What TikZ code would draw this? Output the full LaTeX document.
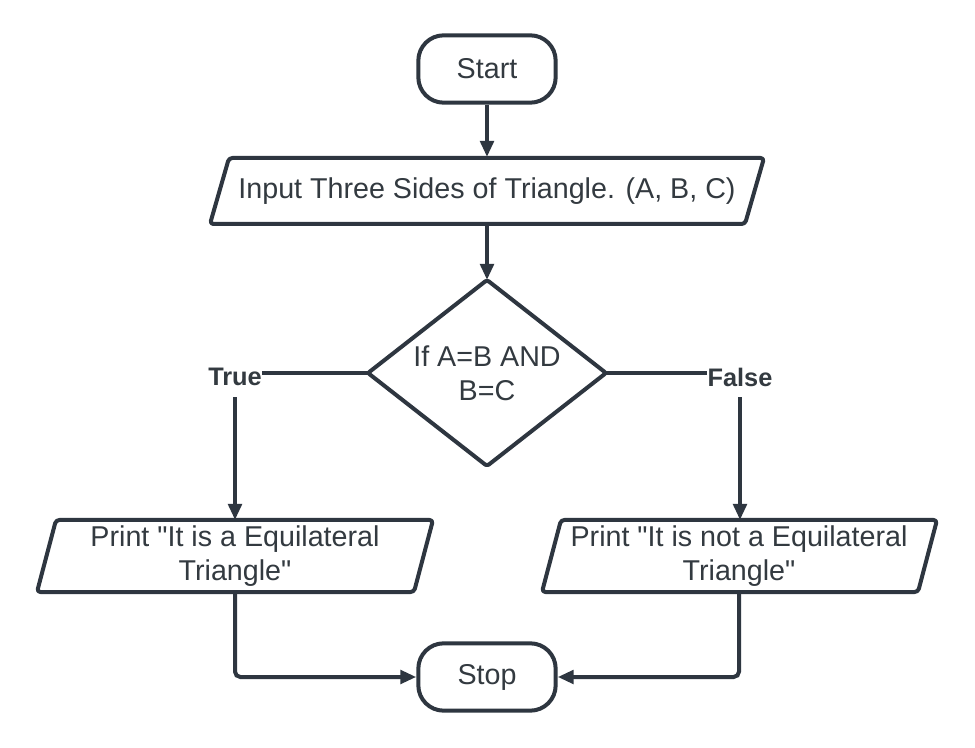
\documentclass[tikz,border=0pt]{standalone}
\usepackage{fontspec}
\setmainfont{Liberation Sans}[Ligatures=TeXOff]
\usetikzlibrary{shapes.geometric,arrows.meta}
\definecolor{linec}{HTML}{2E3640}
\definecolor{textc}{HTML}{333A40}
\begin{document}
\begin{tikzpicture}[x=0.75pt,y=-0.75pt,
  every node/.style={text=textc, font=\fontsize{21.5}{25.5}\selectfont, align=center},
  term/.style={draw=linec, line width=3pt, rectangle, rounded corners=19pt, minimum width=103pt, minimum height=50.5pt, inner sep=0},
  holder/.style={inner sep=0, outer sep=0},
  para/.style={draw=linec, line width=3pt, rounded corners=2.5pt, line join=round},
  dec/.style={draw=linec, line width=3pt, line join=round, rounded corners=1.5pt},
  lbl/.style={font=\fontsize{19}{22}\selectfont\bfseries, inner xsep=0, inner ysep=0, minimum height=30pt},
  conn/.style={draw=linec, line width=3pt},
  arr/.style={conn, -{Triangle[length=12pt,width=10pt]}},
]
\useasboundingbox (0,0) rectangle (975,748);
\fill[white] (0,0) rectangle (975,748);

% Start
\node[term] (start) at (487,69) {Start};

% Input parallelogram
\draw[para] (229,158) -- (764,158) -- (745,224) -- (210,224) -- cycle;
\node[holder, minimum width=380pt, minimum height=51pt] (in) at (487,191) {Input Three Sides of Triangle. (A, B, C)};

% Decision
\node[holder, minimum width=178.5pt, minimum height=139.5pt] (d) at (487,373) {If A=B AND\\B=C};
\draw[dec] (d.north) -- (d.east) -- (d.south) -- (d.west) -- cycle;

% Labels
\node[lbl] (tl) at (235,377) {True};
\node[lbl] (fl) at (740,377) {False};

% Print (left)
\draw[para] (56,520) -- (433,520) -- (414,592) -- (37,592) -- cycle;
\node[holder, minimum width=270pt, minimum height=54pt] (pl) at (235,556) {Print "It is a Equilateral\\Triangle"};

% Print (right)
\draw[para] (561,520) -- (937,520) -- (918,592) -- (542,592) -- cycle;
\node[holder, minimum width=270pt, minimum height=54pt] (pr) at (739,556) {Print "It is not a Equilateral\\Triangle"};

% Stop
\node[term] (stop) at (487,677) {Stop};

% Connectors
\draw[arr] (start.south) -- (in.north);
\draw[arr] (in.south) -- (d.north);
\draw[conn] (d.west) -- (d.west -| tl.east);
\draw[conn] (d.east) -- (d.east -| fl.west);
\draw[arr] (tl.south) -- (pl.north);
\draw[arr] (fl.south) -- (pl.north -| fl.south);
\draw[arr, rounded corners=4pt] (pl.south) |- (stop.west);
\draw[arr, rounded corners=4pt] (pr.south) |- (stop.east);
\end{tikzpicture}
\end{document}
